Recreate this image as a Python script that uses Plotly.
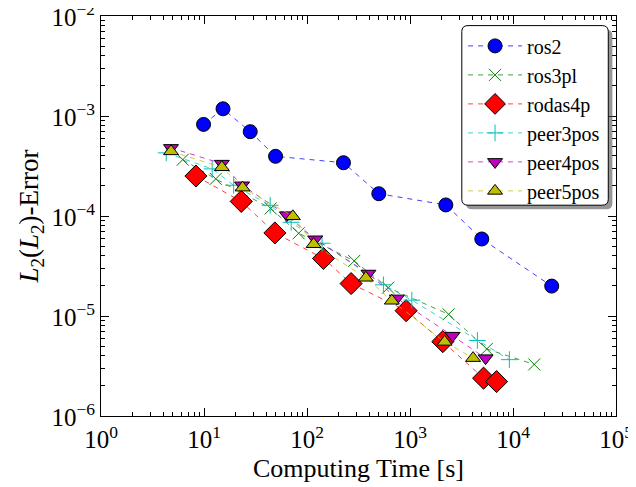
import plotly.graph_objects as go

# ---- data ----
ros2_t = [9.9, 15.3, 28.1, 49.5, 226, 498, 2228, 4977, 23770]
ros2_e = [8.24e-4, 1.18e-3, 6.97e-4, 3.95e-4, 3.41e-4, 1.67e-4, 1.29e-4, 5.89e-5, 1.99e-5]

ros3pl_t = [6.22, 13.0, 44.4, 83, 287, 614, 2370, 5562, 16070]
ros3pl_e = [3.66e-4, 2.35e-4, 1.19e-4, 6.72e-5, 3.55e-5, 1.92e-5, 1.04e-5, 4.68e-6, 3.28e-6]

rodas4p_t = [8.35, 23.0, 48.8, 144.5, 268, 917, 2082, 5180, 6925]
rodas4p_e = [2.51e-4, 1.40e-4, 6.77e-5, 3.76e-5, 2.11e-5, 1.13e-5, 5.54e-6, 2.39e-6, 2.21e-6]

peer3pos_t = [4.30, 12.0, 19.4, 43.9, 70.2, 140, 552, 1042, 4510, 9220]
peer3pos_e = [4.28e-4, 2.96e-4, 2.03e-4, 1.28e-4, 8.65e-5, 5.34e-5, 2.05e-5, 1.44e-5, 5.69e-6, 3.66e-6]

peer4pos_t = [4.78, 14.9, 23.4, 63.8, 120, 395, 745, 2593, 5420]
peer4pos_e = [4.80e-4, 3.34e-4, 2.03e-4, 1.02e-4, 5.85e-5, 2.66e-5, 1.50e-5, 6.36e-6, 3.79e-6]

peer5pos_t = [4.78, 14.9, 23.7, 72.9, 116, 373, 666, 2168, 4096]
peer5pos_e = [4.43e-4, 3.07e-4, 1.92e-4, 9.93e-5, 5.22e-5, 2.41e-5, 1.42e-5, 5.51e-6, 3.79e-6]

x_tickvals = [1, 10, 100, 1000, 10000, 100000]
x_ticktext = ["10<sup>0</sup>", "10<sup>1</sup>", "10<sup>2</sup>", "10<sup>3</sup>", "10<sup>4</sup>", "10<sup>5</sup>"]
y_tickvals = [1e-6, 1e-5, 1e-4, 1e-3, 1e-2]
y_ticktext = ["10<sup>−6</sup>", "10<sup>−5</sup>", "10<sup>−4</sup>", "10<sup>−3</sup>", "10<sup>−2</sup>"]

FONT = "Liberation Serif"

series = [
    ("ros2", ros2_t, ros2_e, "#0000ff", "rgba(0,0,255,0.75)", "circle", 14),
    ("ros3pl", ros3pl_t, ros3pl_e, "#008000", "rgba(0,128,0,0.75)", "x-thin", 12),
    ("rodas4p", rodas4p_t, rodas4p_e, "#ff0000", "rgba(255,0,0,0.75)", "diamond", 17),
    ("peer3pos", peer3pos_t, peer3pos_e, "#00bfbf", "rgba(0,191,191,0.75)", "cross-thin", 12),
    ("peer4pos", peer4pos_t, peer4pos_e, "#bf00bf", "rgba(191,0,191,0.75)", "triangle-down", 13),
    ("peer5pos", peer5pos_t, peer5pos_e, "#bfbf00", "rgba(191,191,0,0.75)", "triangle-up", 13),
]

fig = go.Figure()
for name, xs, ys, col, lcol, sym, size in series:
    thin = sym.endswith("thin")
    marker = dict(symbol=sym, size=size, color=col,
                  line=dict(color=col if thin else "black", width=1))
    fig.add_trace(go.Scatter(
        x=xs, y=ys, name=name, mode="lines+markers",
        line=dict(color=lcol, width=1, dash="5px,5px"),
        marker=marker,
    ))

def minor_vals(lo, hi):
    vals = []
    for d in range(lo, hi):
        for k in range(2, 10):
            vals.append(k * 10.0 ** d)
    return vals

axis_common = dict(
    type="log", showline=True, linecolor="black", linewidth=1, mirror="allticks",
    ticks="inside", ticklen=8, tickwidth=1, tickcolor="black",
    showgrid=False, zeroline=False, ticklabeloverflow="allow", automargin=False,
    tickfont=dict(family=FONT, size=25, color="black"),
)

fig.update_xaxes(**axis_common, range=[0, 5], tickmode="array",
                 tickvals=x_tickvals, ticktext=x_ticktext, ticklabelstandoff=1,
                 minor=dict(tickmode="array", tickvals=minor_vals(0, 5), ticks="inside",
                            ticklen=4, tickcolor="black", showgrid=False))
fig.update_yaxes(**axis_common, range=[-6, -2], tickmode="array",
                 tickvals=y_tickvals, ticktext=y_ticktext, ticklabelshift=1,
                 minor=dict(tickmode="array", tickvals=minor_vals(-6, -2), ticks="inside",
                            ticklen=4, tickcolor="black", showgrid=False),
                 title=dict(text="<i>L</i><sub>2</sub>(<i>L</i><sub>2</sub>)-Error",
                            font=dict(family=FONT, size=27, color="black"), standoff=4))

fig.add_annotation(text="Computing Time [s]", xref="paper", yref="paper",
                   x=0.5, y=-0.132, xanchor="center", yanchor="middle", showarrow=False,
                   font=dict(family=FONT, size=26, color="black"))

# legend frame with shadow (paper coordinates)
lx0, lx1, ly0, ly1 = 0.7006, 0.985, 0.527, 0.976
dx, dy = 0.008, -0.010
def rounded(x0, x1, y0, y1, rx=0.012, ry=0.015):
    return (f"M {x0+rx},{y0} L {x1-rx},{y0} Q {x1},{y0} {x1},{y0+ry} "
            f"L {x1},{y1-ry} Q {x1},{y1} {x1-rx},{y1} L {x0+rx},{y1} "
            f"Q {x0},{y1} {x0},{y1-ry} L {x0},{y0+ry} Q {x0},{y0} {x0+rx},{y0} Z")
fig.add_shape(type="path", xref="paper", yref="paper",
              path=rounded(lx0 + dx, lx1 + dx, ly0 + dy, ly1 + dy),
              fillcolor="rgba(80,80,80,0.6)", line=dict(width=0), layer="above")
fig.add_shape(type="path", xref="paper", yref="paper",
              path=rounded(lx0, lx1, ly0, ly1),
              fillcolor="white", line=dict(color="black", width=1), layer="above")

# the page body has an 8px margin, so the figure is sized to the remaining area
fig.update_layout(
    width=628, height=479,
    margin=dict(l=92.7, r=20, t=7.5, b=71),
    paper_bgcolor="white", plot_bgcolor="white",
    font=dict(family=FONT, color="black"),
    showlegend=True,
    legend=dict(x=0.703, y=0.974, xanchor="left", yanchor="top",
                bgcolor="rgba(0,0,0,0)", borderwidth=0,
                font=dict(family=FONT, size=20, color="black"),
                itemwidth=54, tracegroupgap=0),
)

fig.write_html("out.html")
